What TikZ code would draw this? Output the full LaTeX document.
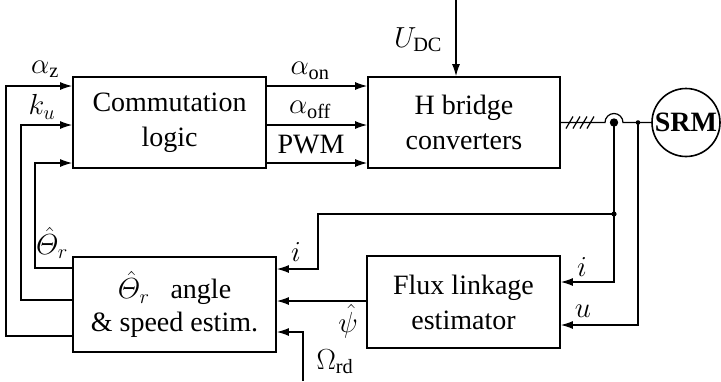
\RequirePackage{fix-cm}
\documentclass[tikz,border=0pt]{standalone}
\usepackage{amsmath}
\usepackage{fontspec}
\setmainfont{Liberation Serif}
\usetikzlibrary{arrows.meta}
\newcommand\myfs{\fontsize{28}{35}\selectfont}
\newcommand\lblfs{\fontsize{29}{31}\selectfont}
\begin{document}
\begin{tikzpicture}[x=1pt,y=-1pt,
  blk/.style={draw,line width=1.8pt,inner sep=0pt,align=center,font=\myfs},
  wire/.style={line width=1.2pt},
  arr/.style={wire,-{Latex[length=12pt,width=8pt]}},
  lbl/.style={font=\lblfs,inner sep=0pt}]
\useasboundingbox (0,0) rectangle (721,381);
\node[blk,minimum width=193pt,minimum height=91pt] (comm) at (169.5,122.5) {Commutation\\logic};
\node[blk,minimum width=192pt,minimum height=91pt] (hb) at (464,122.5) {H bridge\\converters};
\node[blk,minimum width=203pt,minimum height=95pt,font=\fontsize{28}{33}\selectfont] (est) at (174.5,304.5) {{\lblfs$\hat{\varTheta}_r$}\ \ \ angle\\\& speed estim.};
\node[blk,minimum width=193pt,minimum height=92pt] (flux) at (463.5,302) {Flux linkage\\estimator};
\node[draw,circle,line width=1.6pt,minimum size=68pt,inner sep=0pt,font=\myfs\bfseries] (srm) at (686,122.5) {SRM};
% feedback from estimator to commutation logic
\draw[arr] (est.west |- 0,336) -| (6,86) -- (comm.west |- 0,86);
\draw[arr] (est.west |- 0,300) -| (21,125) -- (comm.west |- 0,125);
\draw[arr] (est.west |- 0,268) -| (35,163) -- (comm.west |- 0,163);
% commutation -> H bridge
\draw[arr] (comm.east |- 0,86) -- (hb.west |- 0,86);
\draw[arr] (comm.east |- 0,125) -- (hb.west |- 0,125);
\draw[arr] (comm.east |- 0,163) -- (hb.west |- 0,163);
% UDC
\coordinate (udc) at (456,0);
\draw[arr] (udc) -- (hb.north -| udc);
% output line
\coordinate (isens) at (614,122.5);
\coordinate (usens) at (638,122.5);
\coordinate (ibr) at (614,214);
\draw[wire] (hb.east) -- (605,122.5) arc[start angle=180,end angle=0,radius=9pt] -- (srm.west);
\foreach \x in {566,573,580,587} \draw[wire] (\x,128.5) -- ({\x+7},116.5);
\fill (isens) circle[radius=4.2pt];
\fill (usens) circle[radius=2.3pt];
\fill (ibr) circle[radius=2.6pt];
\draw[wire] (isens) -- (ibr);
\draw[arr] (ibr) |- (flux.east |- 0,282);
\draw[arr] (ibr) -| (318,269) -- (est.east |- 0,269);
\draw[arr] (usens) |- (flux.east |- 0,325);
\draw[arr] (flux.west |- 0,301) -- (est.east |- 0,301);
\coordinate (om) at (303,381);
\draw[arr] (om) |- (est.east |- 0,332);
% labels
\node[lbl] (laz) at (45,69) {$\alpha_{\text{z}}$};
\node[lbl] (lku) at (42,107) {$k_u$};
\node[lbl] (laon) at (310,71) {$\alpha_{\text{on}}$};
\node[lbl] (laoff) at (310,110) {$\alpha_{\text{off}}$};
\node[lbl,font=\myfs] (lpwm) at (311,145) {PWM};
\node[lbl] (lth) at (52,243) {$\hat{\varTheta}_r$};
\node[lbl] (li1) at (296,252) {$i$};
\node[lbl] (lpsi) at (348,321) {$\hat\psi$};
\node[lbl] (lom) at (335,362) {$\Omega_{\text{rd}}$};
\node[lbl] (li2) at (582,267) {$i$};
\node[lbl] (lu) at (583,311) {$u$};
\node[lbl] (ludc) at (418,40) {$U_{\text{DC}}$};
\end{tikzpicture}
\end{document}
